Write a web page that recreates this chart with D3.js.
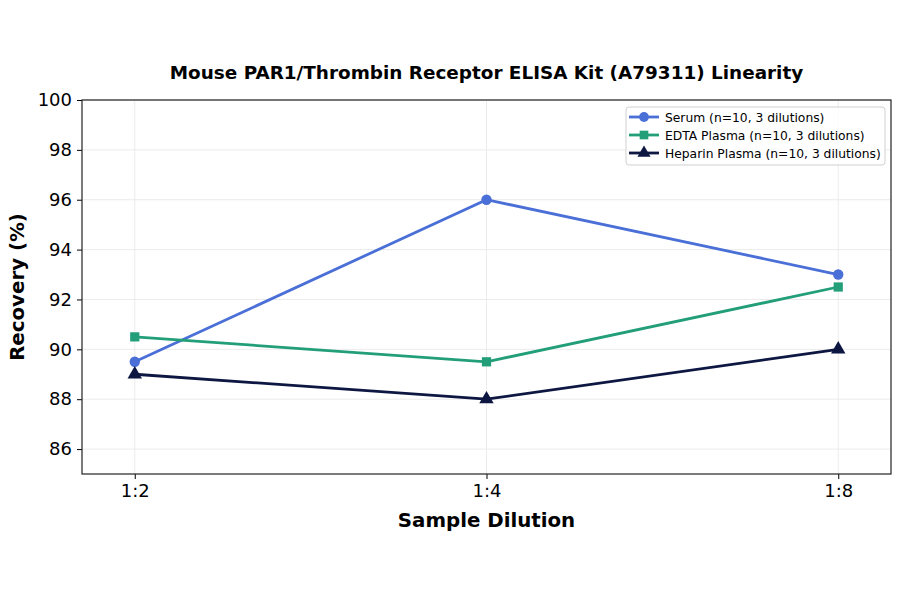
<!DOCTYPE html>
<html>
<head>
<meta charset="utf-8">
<script src="https://cdn.jsdelivr.net/npm/d3@7"></script>
<style>
  body { margin: 0; background: #fff; }
  svg { font-family: "DejaVu Sans", sans-serif; }
</style>
</head>
<body>
<div id="chart"></div>
<script>
let categories = ["1:2", "1:4", "1:8"];
let serum = [89.5, 96, 93];
let edta = [90.5, 89.5, 92.5];
let heparin = [89, 88, 90];
let yTicks = [86, 88, 90, 92, 94, 96, 98, 100];

let series = [
    {name: "Serum (n=10, 3 dilutions)", values: serum, color: "#4a6fd6", shape: d3.symbolCircle},
    {name: "EDTA Plasma (n=10, 3 dilutions)", values: edta, color: "#229e78", shape: d3.symbolSquare},
    {name: "Heparin Plasma (n=10, 3 dilutions)", values: heparin, color: "#0d1742", shape: d3.symbolTriangle}
];

let dim = {
    "width": 900,
    "height": 594
};
let m = {left: 82, right: 891, top: 100, bottom: 474};

let svg = d3.select("#chart")
            .append("svg")
            .attr("width", dim.width)
            .attr("height", dim.height);

let scaleX = d3.scaleLinear()
               .domain([-0.15, 2.15])
               .range([m.left, m.right]);

let scaleY = d3.scaleLinear()
               .domain([85, 100])
               .range([m.bottom, m.top]);

// grid
let grid = svg.append("g");
grid.selectAll(".gy")
    .data(yTicks)
    .join("line")
    .attr("x1", m.left).attr("x2", m.right)
    .attr("y1", d => scaleY(d)).attr("y2", d => scaleY(d))
    .attr("stroke", "#e6e6e6").attr("stroke-width", 0.8);
grid.selectAll(".gx")
    .data(categories)
    .join("line")
    .attr("x1", (d, i) => scaleX(i)).attr("x2", (d, i) => scaleX(i))
    .attr("y1", m.top).attr("y2", m.bottom)
    .attr("stroke", "#e6e6e6").attr("stroke-width", 0.8);

// axes
let axisX = svg.append("g")
               .attr("transform", `translate(0, ${m.bottom})`)
               .call(d3.axisBottom(scaleX)
                    .tickValues([0, 1, 2])
                    .tickFormat(i => categories[i])
                    .tickSize(5)
                    .tickPadding(5));
axisX.select(".domain").remove();
axisX.selectAll("text").attr("font-size", "18px").attr("fill", "#000").attr("font-family", "DejaVu Sans");

let axisY = svg.append("g")
               .attr("transform", `translate(${m.left}, 0)`)
               .call(d3.axisLeft(scaleY)
                    .tickValues(yTicks)
                    .tickSize(5)
                    .tickPadding(5));
axisY.select(".domain").remove();
axisY.selectAll("text").attr("font-size", "18px").attr("fill", "#000").attr("font-family", "DejaVu Sans");

svg.append("rect")
   .attr("x", m.left).attr("y", m.top)
   .attr("width", m.right - m.left).attr("height", m.bottom - m.top)
   .attr("fill", "none").attr("stroke", "#222").attr("stroke-width", 1.2);

// lines
let line = d3.line()
             .x((d, i) => scaleX(i))
             .y(d => scaleY(d));

series.forEach(s => {
    svg.append("path")
       .attr("d", line(s.values))
       .attr("fill", "none")
       .attr("stroke", s.color)
       .attr("stroke-width", 2.8);
    svg.selectAll(null)
       .data(s.values)
       .join("path")
       .attr("transform", (d, i) => `translate(${scaleX(i)}, ${scaleY(d)})`)
       .attr("d", d3.symbol().type(s.shape).size(s.shape === d3.symbolTriangle ? 90 : 85))
       .attr("fill", s.color);
});

// titles
svg.append("text")
   .attr("x", (m.left + m.right) / 2).attr("y", 79)
   .attr("text-anchor", "middle")
   .attr("font-size", "18.4px").attr("font-weight", "bold")
   .text("Mouse PAR1/Thrombin Receptor ELISA Kit (A79311) Linearity");

svg.append("text")
   .attr("x", (m.left + m.right) / 2).attr("y", 527)
   .attr("text-anchor", "middle")
   .attr("font-size", "19.8px").attr("font-weight", "bold")
   .text("Sample Dilution");

svg.append("text")
   .attr("transform", `translate(24, ${(m.top + m.bottom) / 2}) rotate(-90)`)
   .attr("text-anchor", "middle")
   .attr("font-size", "19.8px").attr("font-weight", "bold")
   .text("Recovery (%)");

// legend
let lg = svg.append("g").attr("transform", "translate(626, 107)");
lg.append("rect")
  .attr("width", 259).attr("height", 58).attr("rx", 3)
  .attr("fill", "#fff").attr("fill-opacity", 0.8)
  .attr("stroke", "#d0d0d0");
series.forEach((s, i) => {
    let y = 10 + i * 18;
    lg.append("line")
      .attr("x1", 3).attr("x2", 33).attr("y1", y).attr("y2", y)
      .attr("stroke", s.color).attr("stroke-width", 2.8);
    lg.append("path")
      .attr("transform", `translate(18, ${y})`)
      .attr("d", d3.symbol().type(s.shape).size(75))
      .attr("fill", s.color);
    lg.append("text")
      .attr("x", 39).attr("y", y + 4.5)
      .attr("font-size", "12.3px")
      .text(s.name);
});
</script>
</body>
</html>
